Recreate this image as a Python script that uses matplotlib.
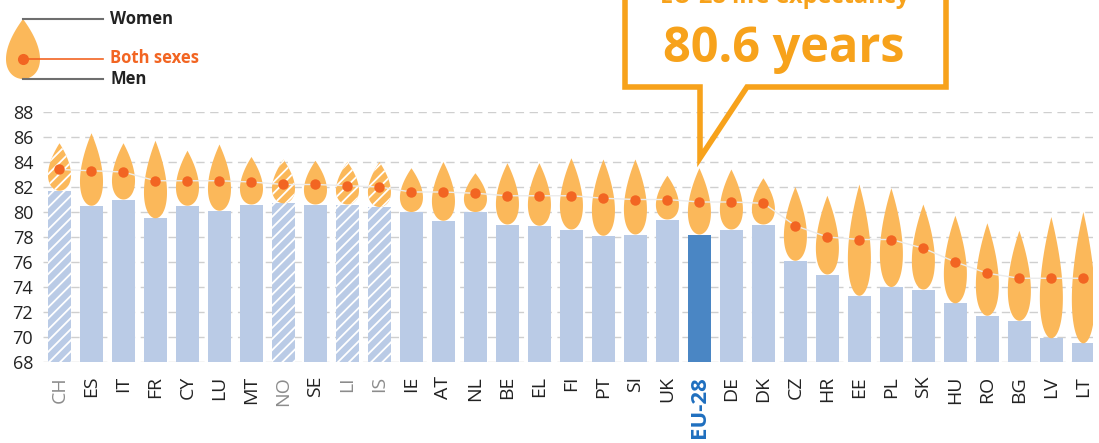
import numpy as np
import matplotlib
matplotlib.use("Agg")
import matplotlib.pyplot as plt
from matplotlib.patches import Polygon

plt.rcParams['font.family'] = ['Open Sans', 'DejaVu Sans']
plt.rcParams['hatch.color'] = 'white'
plt.rcParams['hatch.linewidth'] = 1.3

# life expectancy at birth, 2015
countries = ['CH', 'ES', 'IT', 'FR', 'CY', 'LU', 'MT', 'NO', 'SE', 'LI', 'IS',
             'IE', 'AT', 'NL', 'BE', 'EL', 'FI', 'PT', 'SI', 'UK', 'EU-28', 'DE',
             'DK', 'CZ', 'HR', 'EE', 'PL', 'SK', 'HU', 'RO', 'BG', 'LV', 'LT']
men = [81.7, 80.5, 81.0, 79.5, 80.5, 80.1, 80.6, 80.7, 80.6, 80.6, 80.4,
       80.0, 79.3, 80.0, 79.0, 78.9, 78.6, 78.1, 78.2, 79.4, 78.2, 78.6,
       79.0, 76.1, 75.0, 73.3, 74.0, 73.8, 72.7, 71.7, 71.3, 69.9, 69.5]
women = [85.5, 86.3, 85.5, 85.7, 84.9, 85.4, 84.4, 84.2, 84.1, 84.0, 84.0,
         83.5, 84.0, 83.1, 83.9, 83.9, 84.3, 84.2, 84.2, 82.9, 83.5, 83.4,
         82.7, 82.0, 81.3, 82.2, 81.9, 80.6, 79.7, 79.1, 78.5, 79.6, 80.0]
both = [83.4, 83.3, 83.2, 82.5, 82.5, 82.5, 82.4, 82.2, 82.2, 82.1, 82.0,
        81.6, 81.6, 81.5, 81.3, 81.3, 81.3, 81.1, 81.0, 81.0, 80.8, 80.8,
        80.7, 78.9, 78.0, 77.8, 77.8, 77.1, 76.0, 75.1, 74.7, 74.7, 74.7]
non_eu = ['CH', 'NO', 'LI', 'IS']
yticks = list(range(68, 90, 2))

bar_c = '#BACBE6'
eu_c = '#4A86C4'
drop_c = '#FBB85A'
dot_c = '#F26522'
callout_c = '#F7A21B'

fig = plt.figure(figsize=(10.99, 4.43), dpi=100)
ax = fig.add_axes([0.039, 0.1828, 0.9555, 0.5644])

x = np.arange(len(countries))
w = 0.72

for i, c in enumerate(countries):
    hatch = '///' if c in non_eu else None
    col = eu_c if c == 'EU-28' else bar_c
    ax.bar(i, men[i] - 68, bottom=68, width=w, color=col, hatch=hatch,
           edgecolor='white', linewidth=0, zorder=2)

# teardrop between men (bottom) and women (tip)
t = np.linspace(0, 2 * np.pi, 200)
px = np.sin(t) * np.sin(t / 2) / 0.7698
py = (np.cos(t) + 1) / 2
for i, c in enumerate(countries):
    xs = i + px * w / 2
    ys = men[i] + py * (women[i] - men[i])
    hatch = '///' if c in non_eu else None
    ax.add_patch(Polygon(np.column_stack([xs, ys]), closed=True,
                         facecolor=drop_c, edgecolor='white', linewidth=0,
                         hatch=hatch, zorder=3))

ax.plot(x, both, color='#EBEBEB', lw=1.0, zorder=4)
ax.plot(x, both, 'o', color=dot_c, ms=7.5, mec='none', zorder=5)

ax.set_ylim(68, 88)
ax.set_xlim(-0.52, 32.3)
ax.set_yticks(yticks)
ax.grid(axis='y', color='#CFCFCF', ls=(0, (6, 4)), lw=1, zorder=0)
ax.set_axisbelow(True)
for s in ax.spines.values():
    s.set_visible(False)
ax.tick_params(length=0)
ax.tick_params(axis='y', labelsize=13, labelcolor='#222222', pad=7)
ax.set_xticks(x)
ax.set_xticklabels(countries, rotation=90, fontsize=14, color='#222222')
ax.tick_params(axis='x', pad=10)
for lab in ax.get_xticklabels():
    if lab.get_text() in non_eu:
        lab.set_color('#8C8C8C')
    elif lab.get_text() == 'EU-28':
        lab.set_color('#1F6FBF')
        lab.set_fontweight('bold')
        lab.set_fontsize(16)

# overlay in pixel coordinates for legend and callout
ov = fig.add_axes([0, 0, 1, 1], zorder=10)
ov.set_xlim(0, 1099)
ov.set_ylim(443, 0)
ov.axis('off')
ov.patch.set_alpha(0)

# legend drop
lx = 23 + px * 17
ly = 79 - py * 60
ov.add_patch(Polygon(np.column_stack([lx, ly]), closed=True,
                     facecolor=drop_c, edgecolor='none'))
ov.plot([23, 103], [19, 19], color='#6E6E6E', lw=1.5)
ov.plot([23, 103], [79, 79], color='#6E6E6E', lw=1.5)
ov.plot([23, 103], [59, 59], color=dot_c, lw=1.2)
ov.plot([23], [59], 'o', color=dot_c, ms=8, mec='none')
ov.text(110, 19, 'Women', fontsize=12, fontweight='bold', color='#222222', va='center')
ov.text(110, 58, 'Both sexes', fontsize=12, fontweight='bold', color=dot_c, va='center')
ov.text(110, 79, 'Men', fontsize=12, fontweight='bold', color='#222222', va='center')

# callout (top line is cut by the image edge, as in the original)
cx = [625, 625, 700, 700, 747, 946, 946]
cy = [-20, 87, 87, 158, 87, 87, -20]
ov.add_patch(Polygon(np.column_stack([cx, cy]), closed=False, fill=False,
                     edgecolor=callout_c, lw=4, joinstyle='miter', clip_on=False))
ov.text(785, 3, 'EU-28 life expectancy', fontsize=17, fontweight='bold',
        color=callout_c, ha='center', va='baseline')
ov.text(784, 62, '80.6 years', fontsize=35, fontweight='bold',
        color=callout_c, ha='center', va='baseline')

fig.savefig('out.png', dpi=100)
